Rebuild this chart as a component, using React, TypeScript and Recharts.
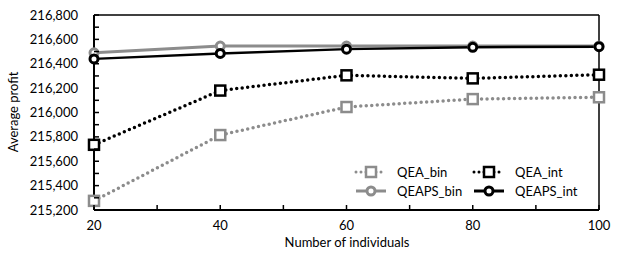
import React from 'react';
import {
  LineChart,
  Line,
  XAxis,
  YAxis,
} from 'recharts';

const individuals = [20, 40, 60, 80, 100];
const qeaBin = [215275, 215815, 216045, 216110, 216125];
const qeaInt = [215735, 216180, 216305, 216280, 216310];
const qeapsBin = [216490, 216545, 216545, 216545, 216545];
const qeapsInt = [216440, 216485, 216520, 216535, 216540];

const xTicks = [20, 30, 40, 50, 60, 70, 80, 90, 100];
const yTicks = [215200, 215300, 215400, 215500, 215600, 215700, 215800, 215900, 216000, 216100, 216200, 216300, 216400, 216500, 216600, 216700, 216800];

const data = individuals.map((n, i) => ({
  n,
  qeaBin: qeaBin[i],
  qeaInt: qeaInt[i],
  qeapsBin: qeapsBin[i],
  qeapsInt: qeapsInt[i],
}));

const GRAY = '#8c8c8c';
const FONT = 'Lato, "Open Sans", sans-serif';

const SquareDot = (color: string) => (props: any) => {
  const { cx, cy } = props;
  if (cx == null || cy == null) return null;
  return (
    <rect x={cx - 5} y={cy - 5} width={10} height={10} fill="#fff" stroke={color} strokeWidth={2.5} />
  );
};

const CircleDot = (color: string) => (props: any) => {
  const { cx, cy } = props;
  if (cx == null || cy == null) return null;
  return <circle cx={cx} cy={cy} r={4} fill="#fff" stroke={color} strokeWidth={3} />;
};

const YTick = (props: any) => {
  const { x, y, payload } = props;
  const v = payload.value;
  const major = v % 200 === 0;
  return (
    <g>
      <line x1={x} x2={x + 5} y1={y} y2={y} stroke="#000" strokeWidth={1.5} />
      {major && (
        <text x={x - 16} y={y} dy={4.5} textAnchor="end" fontSize={13} fontFamily={FONT} fill="#000">
          {v.toLocaleString('en-US')}
        </text>
      )}
    </g>
  );
};

const XTick = (props: any) => {
  const { x, y, payload } = props;
  const v = payload.value;
  const major = v % 20 === 0;
  return (
    <g>
      <line x1={x} x2={x} y1={y} y2={y - 5} stroke="#000" strokeWidth={1.5} />
      {major && (
        <text x={x} y={y + 20} textAnchor="middle" fontSize={13} fontFamily={FONT} fill="#000">
          {v}
        </text>
      )}
    </g>
  );
};

const LegendBox = () => {
  const item = (x: number, y: number, color: string, dotted: boolean, square: boolean, label: string) => (
    <g key={label}>
      <line
        x1={x}
        x2={x + 30}
        y1={y}
        y2={y}
        stroke={color}
        strokeWidth={3}
        strokeDasharray={dotted ? '0 5' : undefined}
        strokeLinecap={dotted ? 'round' : 'butt'}
      />
      {square ? (
        <rect x={x + 10} y={y - 5} width={10} height={10} fill="#fff" stroke={color} strokeWidth={2.5} />
      ) : (
        <circle cx={x + 15} cy={y} r={4} fill="#fff" stroke={color} strokeWidth={3} />
      )}
      <text x={x + 41} y={y} dy={4.5} fontSize={13} fontFamily={FONT} fill="#000">
        {label}
      </text>
    </g>
  );
  return (
    <svg width={250} height={40} style={{ position: 'absolute', left: 350, top: 162 }}>
      {item(6, 10, GRAY, true, true, 'QEA_bin')}
      {item(124, 10, '#000', true, true, 'QEA_int')}
      {item(6, 29, GRAY, false, false, 'QEAPS_bin')}
      {item(124, 29, '#000', false, false, 'QEAPS_int')}
    </svg>
  );
};

export default function App() {
  return (
    <div style={{ position: 'absolute', left: 0, top: 0, width: 619, height: 253, background: '#fff' }}>
      <LineChart width={619} height={253} data={data} margin={{ top: 14, right: 19, left: 0, bottom: 0 }}>
        <XAxis
          dataKey="n"
          type="number"
          domain={[20, 100]}
          ticks={xTicks}
          interval={0}
          tickSize={0}
          tickMargin={0}
          tick={<XTick />}
          axisLine={{ stroke: '#000', strokeWidth: 2 }}
          height={43}
          label={() => (
            <text x={347} y={247} textAnchor="middle" fontSize={13} fontFamily={FONT} fill="#000">
              Number of individuals
            </text>
          )}
        />
        <XAxis xAxisId="top" dataKey="n" type="number" domain={[20, 100]} orientation="top" tick={false} tickLine={false} axisLine={{ stroke: '#000', strokeWidth: 1.5 }} height={1} />
        <YAxis
          type="number"
          domain={[215200, 216800]}
          ticks={yTicks}
          interval={0}
          tickSize={0}
          tickMargin={0}
          tick={<YTick />}
          axisLine={{ stroke: '#000', strokeWidth: 2 }}
          width={94}
          label={() => (
            <text x={18} y={112} transform="rotate(-90, 18, 112)" textAnchor="middle" fontSize={13} fontFamily={FONT} fill="#000">
              Average profit
            </text>
          )}
        />
        <YAxis yAxisId="right" orientation="right" domain={[215200, 216800]} tick={false} tickLine={false} axisLine={{ stroke: '#000', strokeWidth: 1.5 }} width={1} />
        <Line xAxisId={0} dataKey="qeaBin" name="QEA_bin" stroke={GRAY} strokeWidth={3.5} strokeDasharray="0 5.5" strokeLinecap="round" dot={SquareDot(GRAY)} isAnimationActive={false} />
        <Line xAxisId={0} dataKey="qeaInt" name="QEA_int" stroke="#000" strokeWidth={3.5} strokeDasharray="0 5.5" strokeLinecap="round" dot={SquareDot('#000')} isAnimationActive={false} />
        <Line xAxisId={0} dataKey="qeapsBin" name="QEAPS_bin" stroke={GRAY} strokeWidth={3} dot={CircleDot(GRAY)} isAnimationActive={false} />
        <Line xAxisId={0} dataKey="qeapsInt" name="QEAPS_int" stroke="#000" strokeWidth={2.5} dot={CircleDot('#000')} isAnimationActive={false} />
      </LineChart>
      <LegendBox />
    </div>
  );
}
